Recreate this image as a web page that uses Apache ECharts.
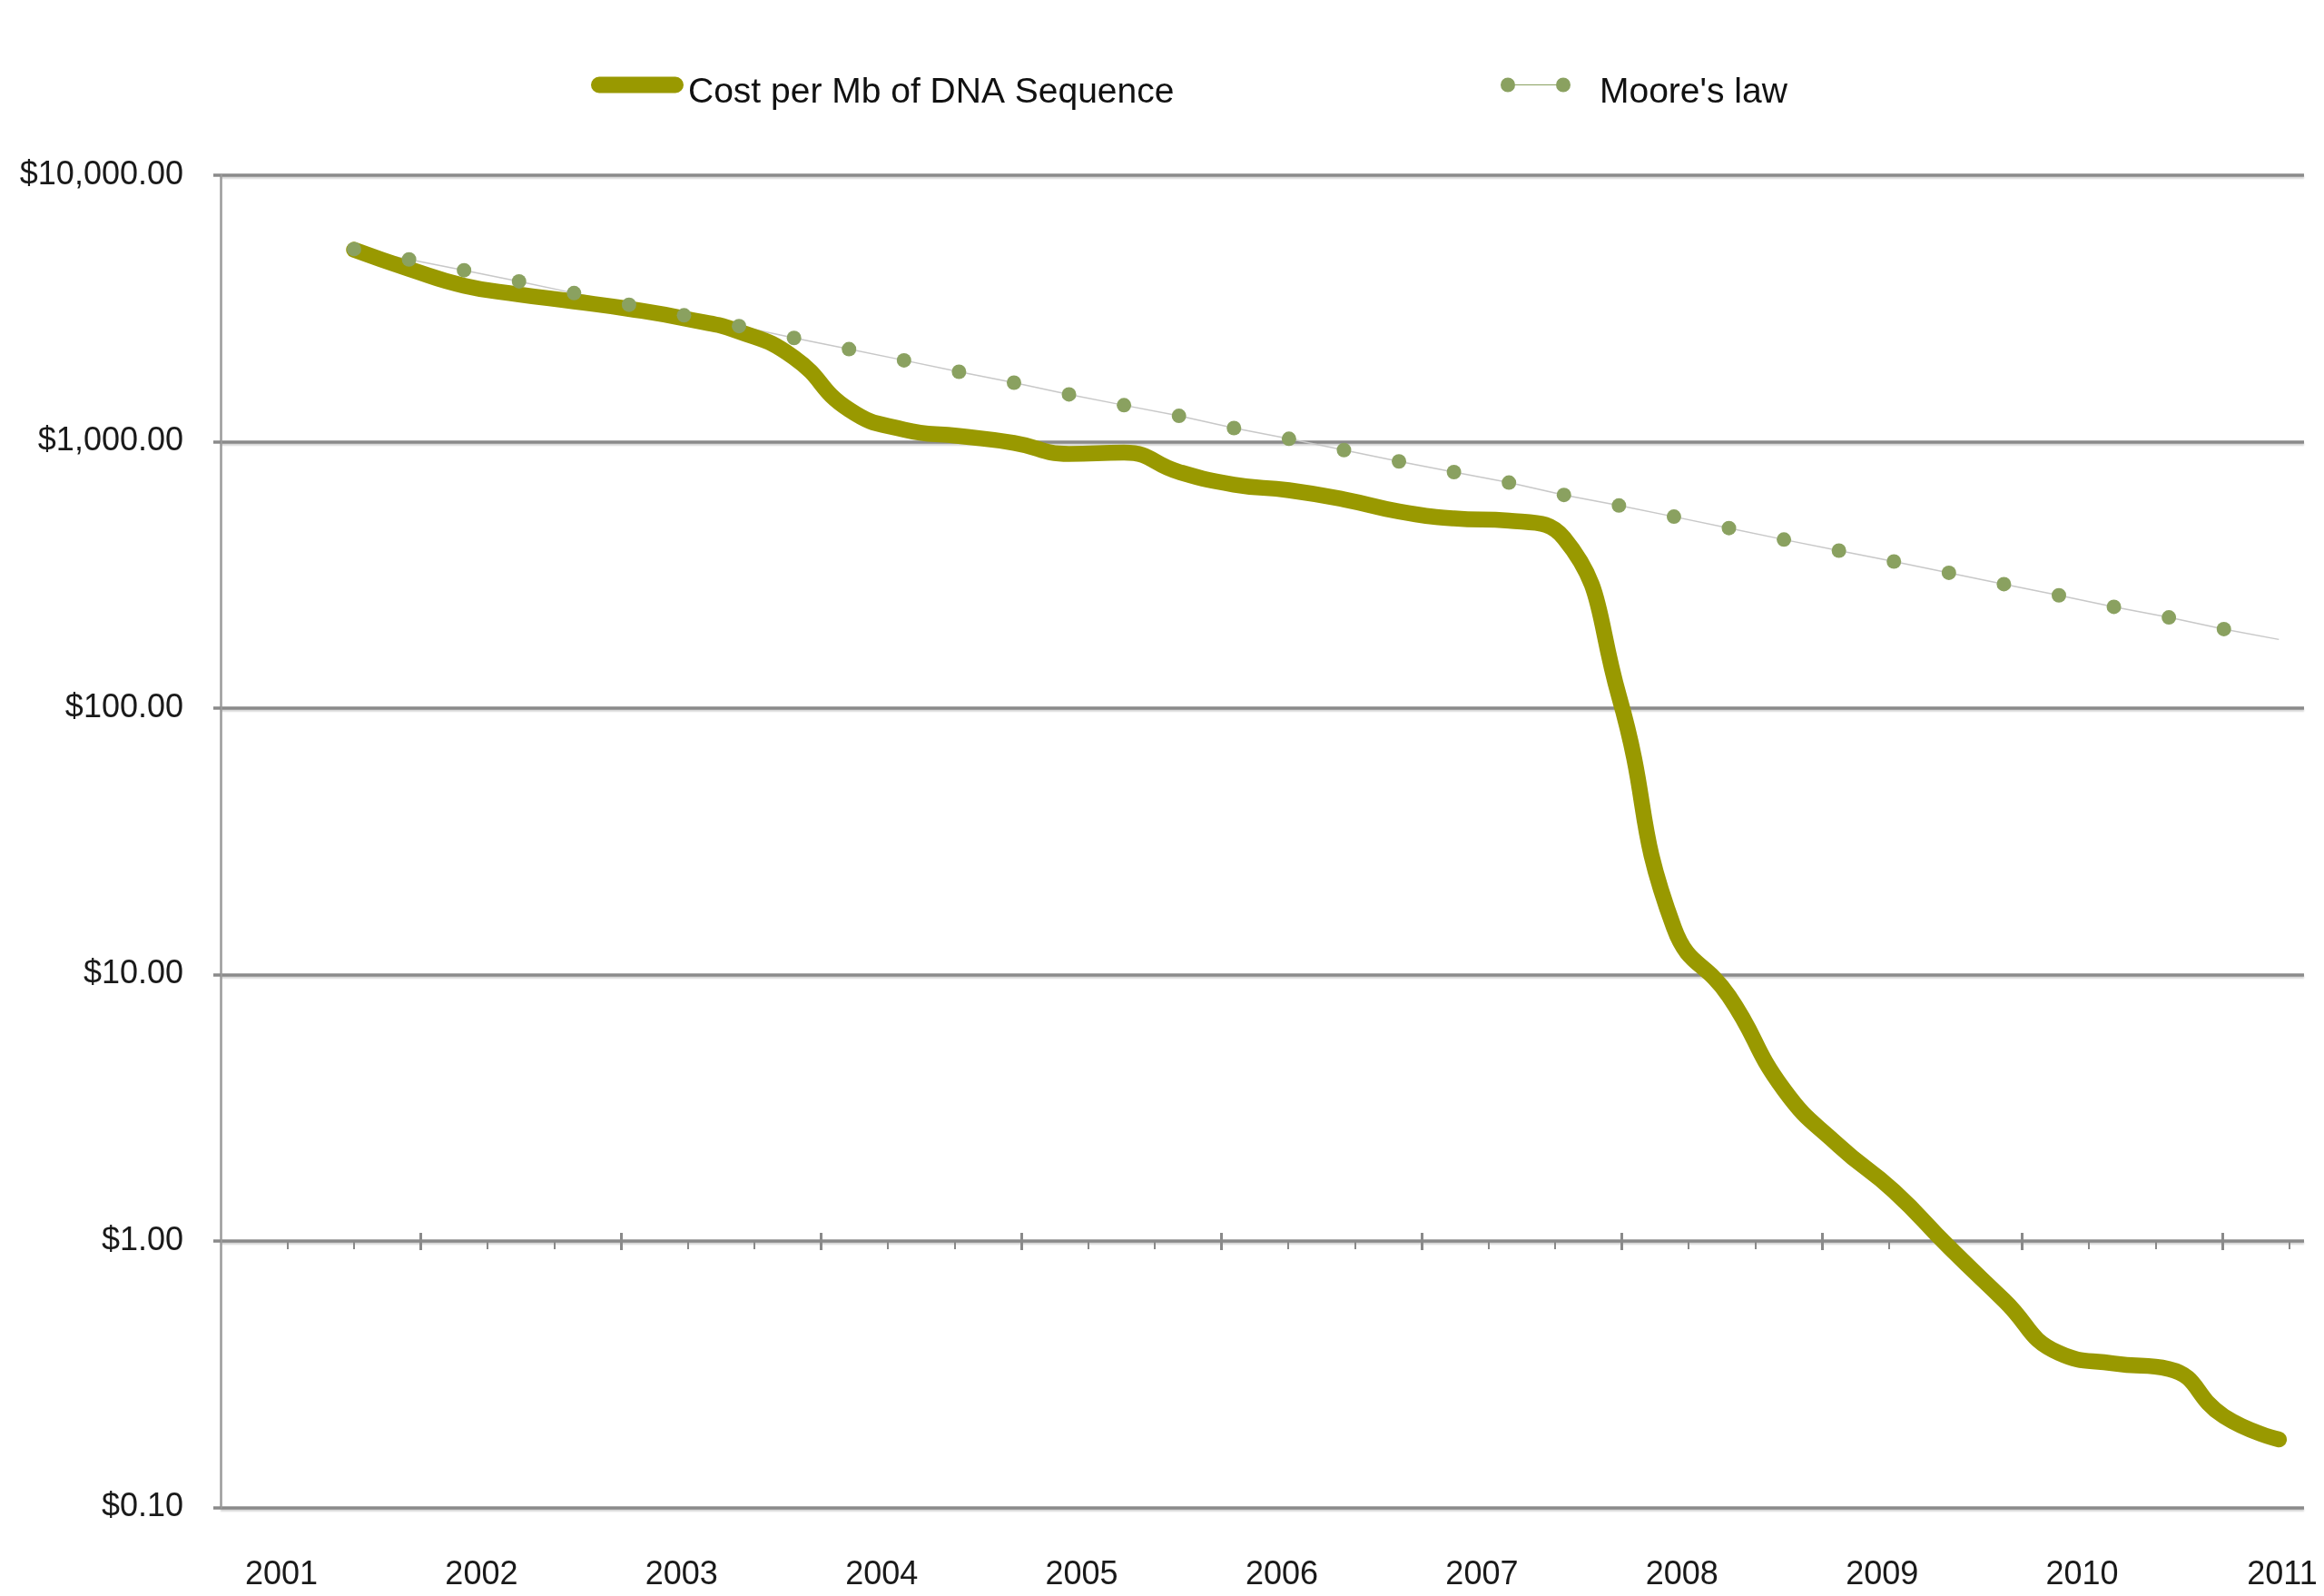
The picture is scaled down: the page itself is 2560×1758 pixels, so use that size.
<!DOCTYPE html>
<html>
<head>
<meta charset="utf-8">
<script src="https://cdn.jsdelivr.net/npm/echarts@6/dist/echarts.min.js"></script>
<style>
  html, body { margin: 0; padding: 0; background: #fff; }
  #main { width: 2560px; height: 1758px; }
</style>
</head>
<body>
<div id="main"></div>
<script>
// values, one per plotted period
const costPerMb = [5250, 4450, 3850, 3570, 3360, 3150, 2900, 2590, 2070, 1320, 1110, 1050,
  990, 900, 910, 770, 690, 657, 607, 547, 515, 505, 435, 111,
  15, 8.3, 3.7, 2.28, 1.54, 0.95, 0.6, 0.38, 0.347, 0.331, 0.22, 0.18]
const mooresLaw = [5280, 4830, 4400, 3995, 3610, 3265, 2980, 2715, 2450, 2225, 2020, 1830,
  1665, 1505, 1370, 1250, 1125, 1025, 930, 843, 769, 702, 631, 576,
  523, 474, 429, 390, 355, 322, 292, 265, 240, 219, 198, 181]
const periods = costPerMb.map((v, i) => String(i + 1))
const years = ['2001', '2002', '2003', '2004', '2005', '2006', '2007', '2008', '2009', '2010', '2011']
const yTickLabels = ['$0.10', '$1.00', '$10.00', '$100.00', '$1,000.00', '$10,000.00']

const OLIVE = '#999900'
const DOT = '#8aa160'
const GRID = '#8a8a8a'
const FONT = 'Liberation Sans, Arial, Helvetica, sans-serif'

const chart = echarts.init(document.getElementById('main'))

// major tick positions on the $1 line, in tick-axis units
const majorTicks = []
for (let i = 0; i <= 9; i++) majorTicks.push(i)

const tickAxisBase = {
    gridIndex: 0,
    type: 'value',
    min: -1,
    max: 9.408,
    interval: 1,
    position: 'bottom',
    offset: -293.5,
    axisLine: { show: false, onZero: false },
    axisLabel: { show: false },
    splitLine: { show: false }
}

const legendText = { fontSize: 39, lineHeight: 39, color: '#111', fontFamily: FONT }

const option = {
    backgroundColor: '#fff',
    animation: false,
    textStyle: { fontFamily: FONT },
    legend: [{
        left: 651,
        top: 83,
        padding: 0,
        selectedMode: false,
        itemWidth: 102,
        itemHeight: 36,
        data: [{
            name: 'Cost per Mb of DNA Sequence',
            // pill swatch, the stray point below only sets the icon box height
            icon: 'path://M9 0H93A9 9 0 0 1 93 18H9A9 9 0 0 1 9 0ZM0 36H0.01'
        }],
        textStyle: legendText
    }, {
        left: 1653,
        top: 83,
        padding: 0,
        selectedMode: false,
        itemWidth: 77,
        itemHeight: 34,
        data: [{
            name: "Moore's law",
            icon: 'path://M0 8A8 8 0 1 0 16 8A8 8 0 1 0 0 8ZM61 8A8 8 0 1 0 77 8A8 8 0 1 0 61 8ZM16 7.4H61V8.6H16ZM0 34H0.01'
        }],
        textStyle: Object.assign({}, legendText, { padding: [0, 0, 0, 27] })
    }],
    grid: [
        { left: 243, right: 22, top: 193, bottom: 97.5 },
        { left: 390, right: 49.7, top: 193, bottom: 97.5 },
        { left: 310, right: 46, top: 193, bottom: 97.5 }
    ],
    xAxis: [
        Object.assign({}, tickAxisBase, {
            axisTick: { show: true, length: 10, customValues: majorTicks, lineStyle: { color: GRID, width: 3 } },
            minorTick: { show: true, splitNumber: 3, length: 9, lineStyle: { color: GRID, width: 2 } }
        }),
        Object.assign({}, tickAxisBase, {
            axisTick: { show: true, inside: true, length: 9, customValues: majorTicks, lineStyle: { color: GRID, width: 3 } },
            minorTick: { show: false }
        }),
        {
            gridIndex: 1,
            type: 'category',
            data: periods,
            boundaryGap: false,
            show: false,
            axisLine: { onZero: false }
        },
        {
            gridIndex: 2,
            type: 'category',
            data: years,
            boundaryGap: false,
            position: 'bottom',
            axisLine: { show: false, onZero: false },
            axisTick: { show: false },
            splitLine: { show: false },
            axisLabel: { interval: 0, margin: 57, fontSize: 36, color: '#1a1a1a', fontFamily: FONT }
        }
    ],
    yAxis: [
        {
            gridIndex: 0,
            type: 'log',
            logBase: 10,
            min: 0.1,
            max: 10000,
            splitNumber: 5,
            axisLine: { show: true, onZero: false, lineStyle: { color: '#9a9a9a', width: 2.5 } },
            axisTick: { show: true, length: 8, lineStyle: { color: GRID, width: 3.5 } },
            splitLine: {
                show: true,
                lineStyle: { color: GRID, width: 3.5, shadowColor: 'rgba(0,0,0,0.18)', shadowBlur: 2, shadowOffsetY: 2 }
            },
            axisLabel: {
                margin: 41,
                fontSize: 36,
                color: '#1a1a1a',
                fontFamily: FONT,
                formatter: v => yTickLabels[Math.round(Math.log10(v)) + 1]
            }
        },
        { gridIndex: 1, type: 'log', logBase: 10, min: 0.1, max: 10000, show: false, axisLine: { onZero: false } },
        { gridIndex: 2, type: 'value', show: false, axisLine: { onZero: false } }
    ],
    series: [
        {
            name: 'moore-trend',
            type: 'line',
            xAxisIndex: 2,
            yAxisIndex: 1,
            data: mooresLaw,
            symbol: 'none',
            silent: true,
            lineStyle: { color: '#c8c8c8', width: 1.5 },
            z: 2
        },
        {
            name: 'Cost per Mb of DNA Sequence',
            type: 'line',
            xAxisIndex: 2,
            yAxisIndex: 1,
            data: costPerMb,
            smooth: 0.5,
            symbol: 'none',
            itemStyle: { color: OLIVE },
            lineStyle: { color: OLIVE, width: 17.5, cap: 'round', join: 'round' },
            z: 3
        },
        {
            name: "Moore's law",
            type: 'line',
            xAxisIndex: 2,
            yAxisIndex: 1,
            // last period has no marker in the picture, only the thin line
            data: mooresLaw.map((v, i) => i === mooresLaw.length - 1 ? { value: v, symbolSize: 0 } : v),
            symbol: 'circle',
            symbolSize: 16,
            showSymbol: true,
            showAllSymbol: true,
            itemStyle: { color: DOT },
            lineStyle: { opacity: 0 },
            z: 4
        }
    ]
}

chart.setOption(option)
</script>
</body>
</html>
